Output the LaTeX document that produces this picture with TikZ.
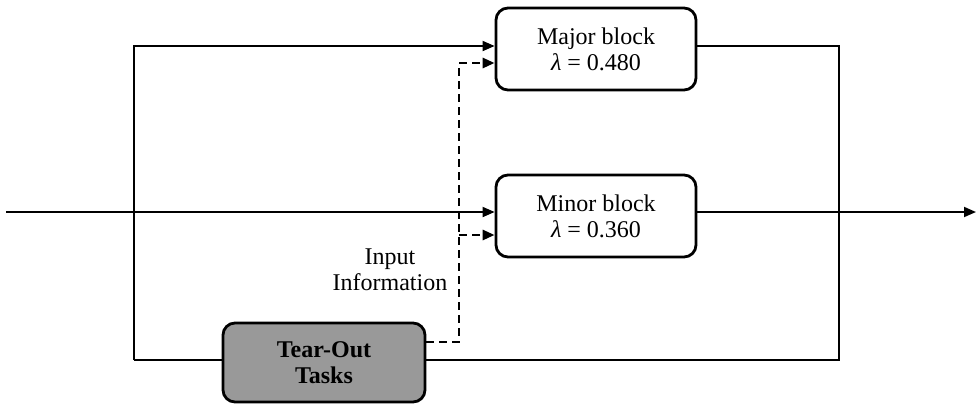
\documentclass[tikz,border=0pt]{standalone}
\usepackage{fontspec}
\setmainfont{Liberation Serif}
\usetikzlibrary{arrows.meta}
\begin{document}
\begin{tikzpicture}[x=0.5pt,y=-0.5pt,
  blk/.style={draw,line width=1.4pt,rounded corners=6pt,minimum width=100pt,minimum height=41pt,align=center,font=\fontsize{12}{13}\selectfont,inner sep=0pt},
  conn/.style={line width=0.9pt},
  arr/.style={conn,-{Triangle[length=6pt,width=5pt]}},
  dsh/.style={line width=1.4pt,dash pattern=on 4pt off 2.5pt},
  darr/.style={dsh,-{Triangle[length=6pt,width=5pt]}}]
\useasboundingbox (0,0) rectangle (976,403);
\node[blk] (major) at (596,49) {Major block\\\textit{λ} = 0.480};
\node[blk] (minor) at (596,216) {Minor block\\\textit{λ} = 0.360};
\node[blk,fill=black!40,minimum width=101pt,minimum height=39.5pt,font=\fontsize{12}{13}\selectfont\bfseries] (tear) at (324,362.5) {Tear-Out\\Tasks};
\node[align=center,font=\fontsize{12}{13}\selectfont,inner sep=0pt] (info) at (390,270) {Input\\Information};
\coordinate (in) at (6,212);
\coordinate (out) at (976,212);
\coordinate (lt) at (134,46);
\coordinate (lb) at (134,360);
\coordinate (rt) at (839,46);
\coordinate (rb) at (839,360);
\coordinate (dx) at (459,342);
\coordinate (dt) at (459,63);
\coordinate (dm) at (459,235);
% main line
\draw[arr] (in) -- (minor.west |- in);
\draw[arr] (minor.east |- out) -- (out);
% frame
\draw[arr] (lb) -- (lt) -- (major.west |- lt);
\draw[conn] (lb) -- (tear.west |- lb);
\draw[conn] (major.east |- rt) -- (rt) -- (rb) -- (tear.east |- rb);
% dashed
\draw[darr] (tear.east |- dx) -- (dx) -- (dt) -- (major.west |- dt);
\draw[darr] (dm) -- (minor.west |- dm);
\end{tikzpicture}
\end{document}
